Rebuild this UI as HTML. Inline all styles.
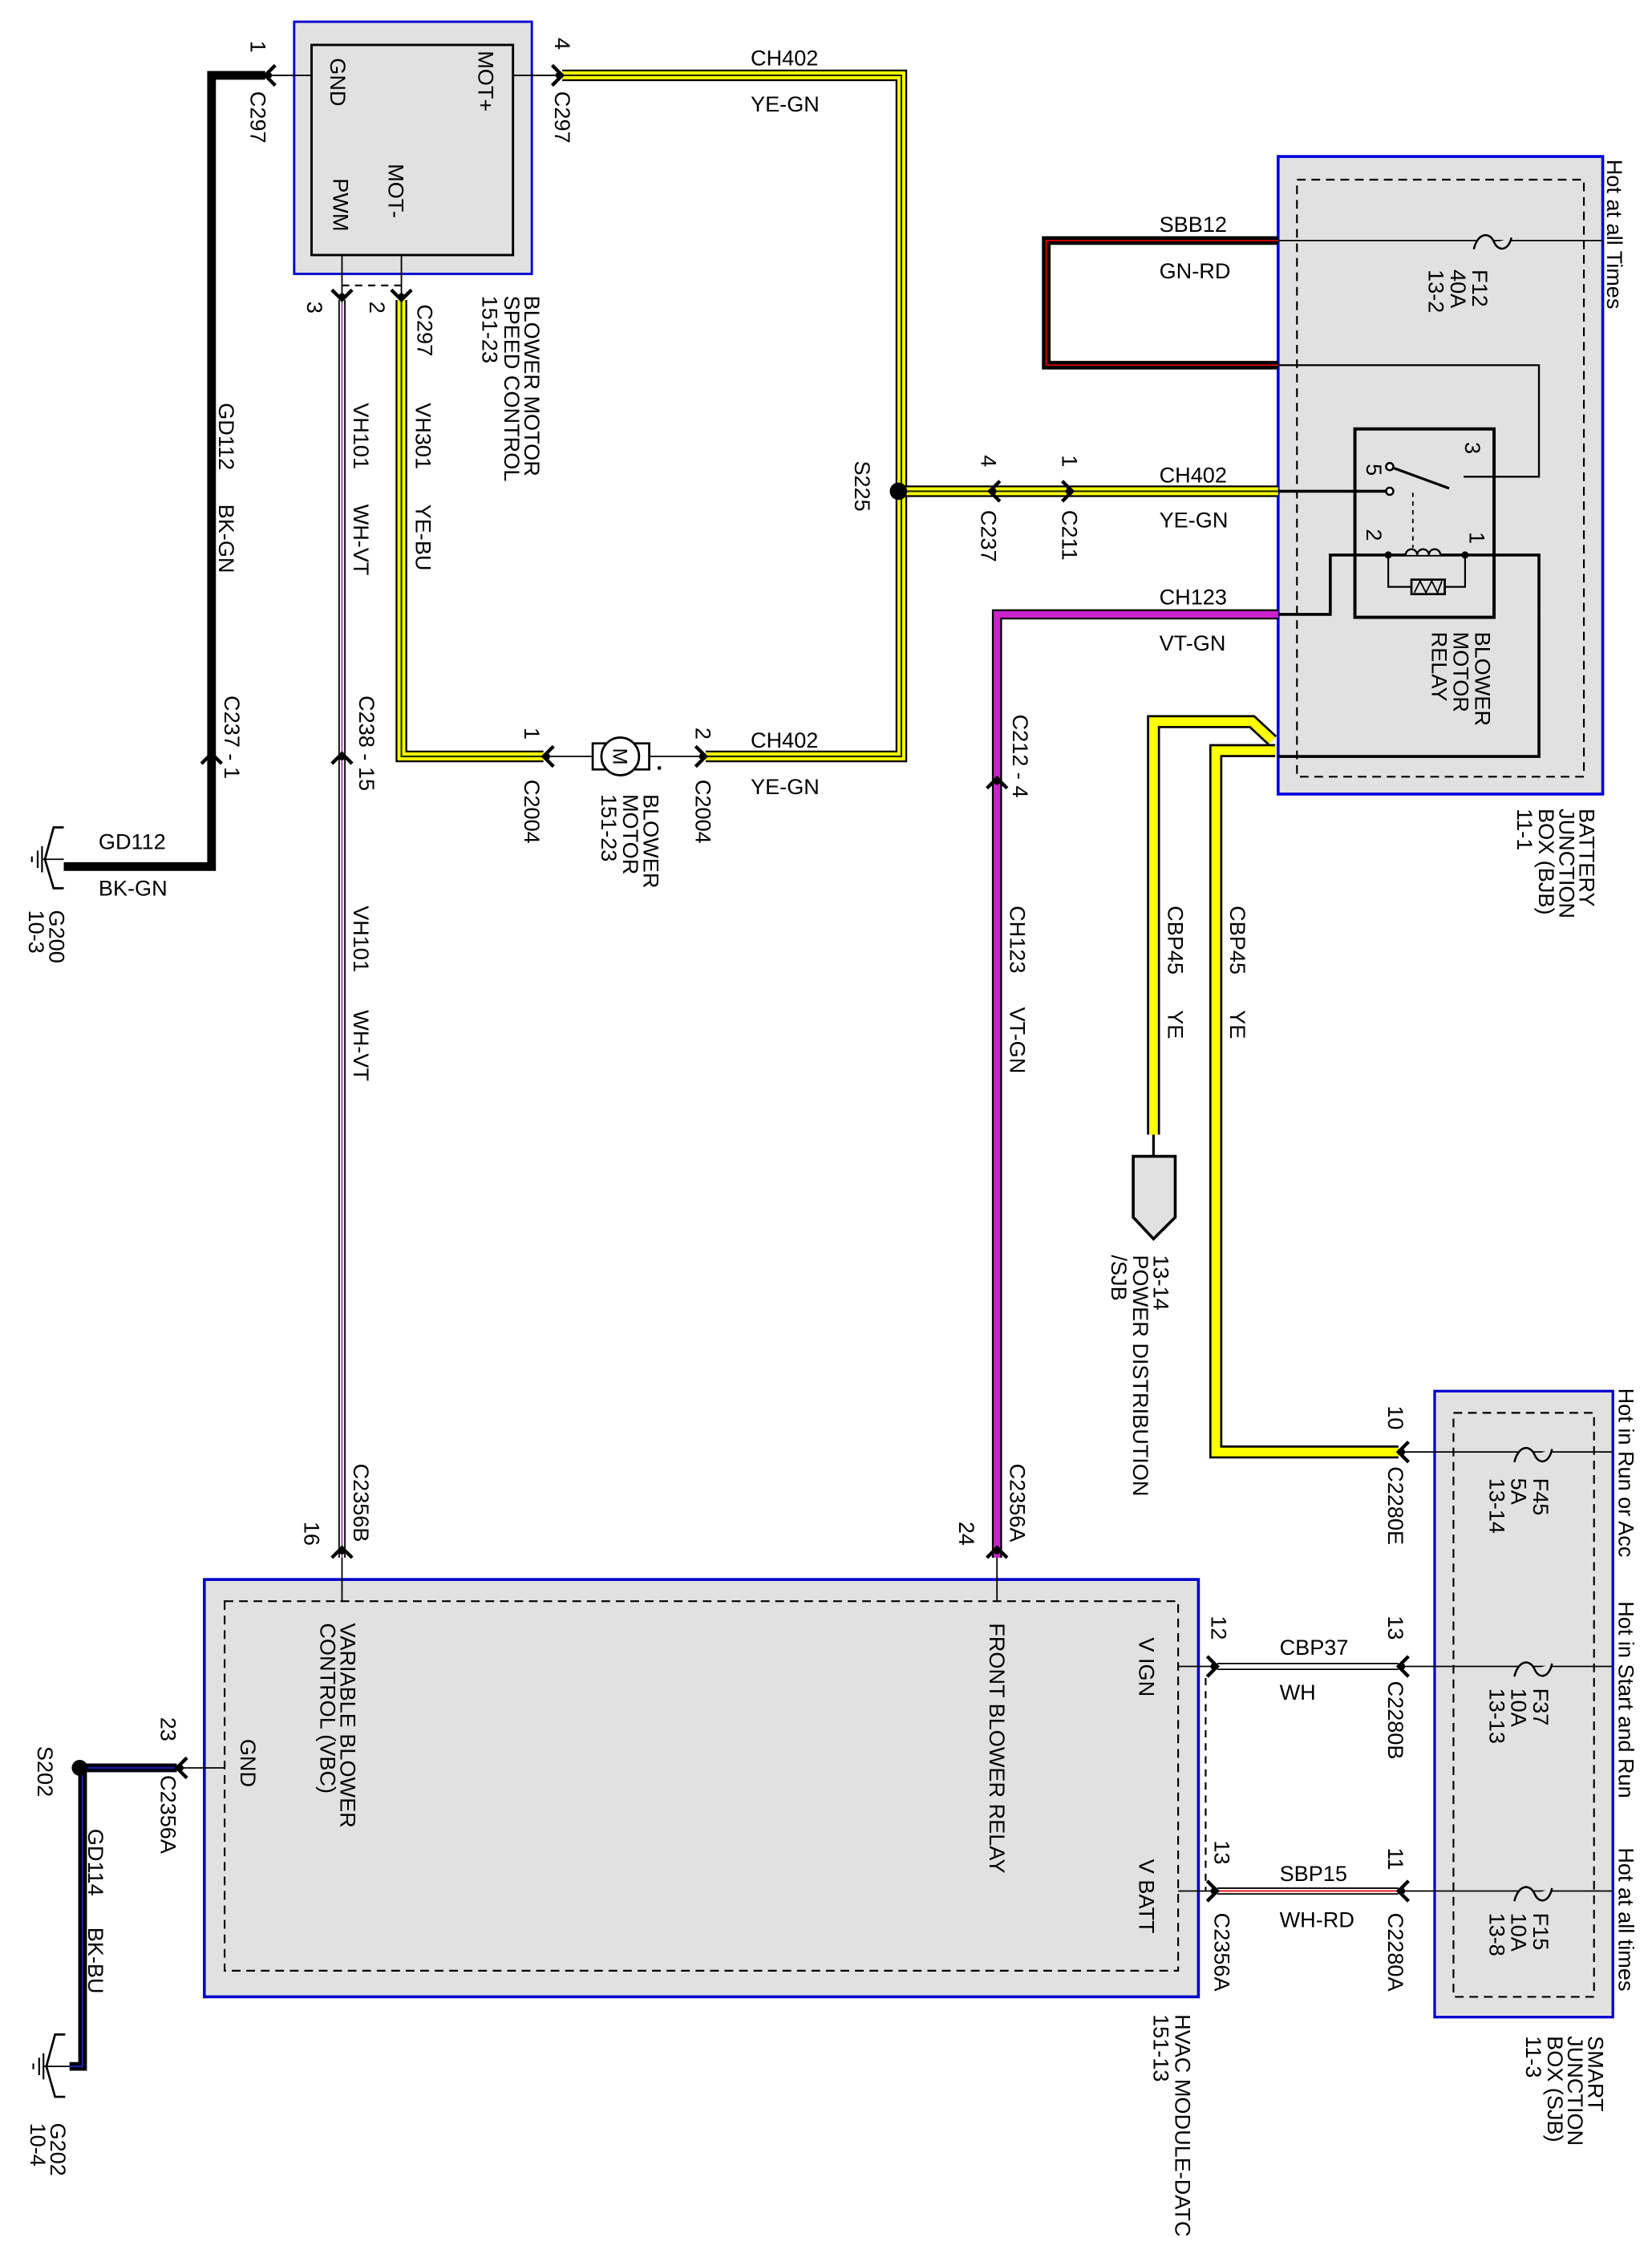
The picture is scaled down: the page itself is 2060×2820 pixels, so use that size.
<!DOCTYPE html>
<html><head><meta charset="utf-8"><style>
html,body{margin:0;padding:0;background:#fff;}
svg{display:block;}
text{font-family:"Liberation Sans",Arial,sans-serif;font-size:15px;fill:#000;}
</style></head><body>
<svg width="2060" height="2820" viewBox="0 0 1140 1561" preserveAspectRatio="none" xmlns="http://www.w3.org/2000/svg">
<defs>
<g id="chL"><polyline points="7,-7 0,0 7,7" fill="none" stroke="#000" stroke-width="2.4"/><circle cx="2.5" cy="0" r="2.2"/></g>
</defs>
<rect x="203" y="15" width="164" height="174" fill="#e1e1e1" stroke="#0000cc" stroke-width="1.6"/>
<rect x="215" y="31" width="139" height="145" fill="none" stroke="#000" stroke-width="1.6"/>
<rect x="882" y="108" width="224" height="440" fill="#e1e1e1" stroke="#0000dd" stroke-width="2"/>
<rect x="895" y="124" width="198" height="412" fill="none" stroke="#000" stroke-width="1.2" stroke-dasharray="6,4"/>
<rect x="141" y="1090" width="686" height="288" fill="#e1e1e1" stroke="#0000cc" stroke-width="2"/>
<rect x="155" y="1105" width="658" height="255" fill="none" stroke="#000" stroke-width="1.2" stroke-dasharray="6,4"/>
<rect x="990" y="960" width="123" height="432" fill="#e1e1e1" stroke="#0000cc" stroke-width="1.8"/>
<rect x="1003" y="975" width="97" height="403" fill="none" stroke="#000" stroke-width="1.2" stroke-dasharray="6,4"/>

<polyline points="183,52 146,52 146,598 44,598" fill="none" stroke="#000" stroke-width="6"/>
<line x1="183" y1="52" x2="215" y2="52" stroke="#000" stroke-width="1"/>
<use href="#chL" x="183" y="52"/>
<use href="#chL" transform="translate(146,520) rotate(90)"/>
<polyline points="44,571 37,571 31,593 37,613 44,613" fill="none" stroke="#000" stroke-width="1.5"/>
<line x1="29" y1="593" x2="44" y2="593" stroke="#000" stroke-width="1"/>
<line x1="29" y1="584" x2="29" y2="602" stroke="#000" stroke-width="1.2"/>
<line x1="26" y1="587" x2="26" y2="599" stroke="#000" stroke-width="1.2"/>
<line x1="22" y1="591" x2="22" y2="595" stroke="#000" stroke-width="1.2"/>

<polyline points="388,52 622,52 622,522 487,522" fill="none" stroke="#000" stroke-width="8"/>
<polyline points="388,52 622,52 622,522 487,522" fill="none" stroke="#ffff00" stroke-width="5.5"/>
<polyline points="388,52 622,52 622,522 487,522" fill="none" stroke="#1a2a00" stroke-width="1.2"/>
<line x1="354" y1="52" x2="388" y2="52" stroke="#000" stroke-width="1"/>
<use href="#chL" transform="translate(388,52) rotate(180)"/>
<line x1="620" y1="339" x2="882" y2="339" stroke="#000" stroke-width="8"/>
<line x1="620" y1="339" x2="882" y2="339" stroke="#ffff00" stroke-width="5.5"/>
<line x1="620" y1="339" x2="882" y2="339" stroke="#1a2a00" stroke-width="1.2"/>
<circle cx="620" cy="339" r="6"/>
<use href="#chL" x="683" y="339"/>
<use href="#chL" transform="translate(740,339) rotate(180)"/>

<polyline points="277,207 277,522 375,522" fill="none" stroke="#000" stroke-width="8"/>
<polyline points="277,207 277,522 375,522" fill="none" stroke="#ffff00" stroke-width="5.5"/>
<polyline points="277,207 277,522 375,522" fill="none" stroke="#223300" stroke-width="1.2"/>
<line x1="277" y1="176" x2="277" y2="207" stroke="#000" stroke-width="1"/>
<use href="#chL" transform="translate(277,207) rotate(-90)"/>
<line x1="236" y1="207" x2="236" y2="1075" stroke="#000" stroke-width="5"/>
<line x1="236" y1="207" x2="236" y2="1075" stroke="#fff" stroke-width="3"/>
<line x1="236" y1="207" x2="236" y2="1075" stroke="#a040b0" stroke-width="1"/>
<line x1="236" y1="176" x2="236" y2="207" stroke="#000" stroke-width="1"/>
<use href="#chL" transform="translate(236,207) rotate(-90)"/>
<use href="#chL" transform="translate(236,520) rotate(90)"/>
<use href="#chL" transform="translate(236,1068) rotate(90)"/>
<line x1="236" y1="1075" x2="236" y2="1105" stroke="#000" stroke-width="1"/>
<polyline points="236,197 277,197" fill="none" stroke="#000" stroke-width="1.2" stroke-dasharray="5,4"/>

<line x1="375" y1="522" x2="487" y2="522" stroke="#000" stroke-width="1"/>
<use href="#chL" x="375" y="522"/>
<use href="#chL" transform="translate(487,522) rotate(180)"/>
<rect x="409" y="513" width="39" height="18" fill="#fff" stroke="#000" stroke-width="1.5"/>
<circle cx="428" cy="522" r="13" fill="#fff" stroke="#000" stroke-width="1.5"/>
<text x="428" y="522" text-anchor="middle" transform="rotate(90 428 522)" dy="5" style="font-size:14px">M</text>
<circle cx="455" cy="530" r="1.3"/>

<polyline points="882,166 722,166 722,252 882,252" fill="none" stroke="#000" stroke-width="6"/>
<polyline points="882,166 722,166 722,252 882,252" fill="none" stroke="#dd0000" stroke-width="1"/>
<line x1="882" y1="166" x2="1106" y2="166" stroke="#000" stroke-width="1"/>
<path d="M1017,172 C1020,160 1028,160 1031,167 C1034,174 1041,173 1043,164" fill="#e1e1e1" stroke="#000" stroke-width="1.4"/>
<polyline points="882,252 1062,252 1062,329 1010,329" fill="none" stroke="#000" stroke-width="1.3"/>
<rect x="935" y="296" width="96" height="130" fill="none" stroke="#000" stroke-width="2.2"/>
<line x1="882" y1="339" x2="958" y2="339" stroke="#000" stroke-width="2"/>
<circle cx="959" cy="339" r="2.5" fill="#fff" stroke="#000" stroke-width="1.4"/>
<line x1="959" y1="322" x2="1000" y2="337" stroke="#000" stroke-width="1.8"/>
<circle cx="959" cy="322" r="2.5" fill="#fff" stroke="#000" stroke-width="1.4"/>
<line x1="975" y1="340" x2="975" y2="378" stroke="#000" stroke-width="1" stroke-dasharray="3,3"/>
<polyline points="882,424 918,424 918,383 1062,383 1062,522 882,522" fill="none" stroke="#000" stroke-width="2"/>
<circle cx="958" cy="383" r="2.5"/><circle cx="1011" cy="383" r="2.5"/>
<path d="M970,383 a4,4 0 0 1 8,0 a4,4 0 0 1 8,0 a4,4 0 0 1 8,0" fill="#e1e1e1" stroke="#000" stroke-width="1.3"/>
<polyline points="958,383 958,405 1011,405 1011,383" fill="none" stroke="#000" stroke-width="1.2"/>
<rect x="974" y="400" width="23" height="10" fill="#e1e1e1" stroke="#000" stroke-width="1.5"/>
<polyline points="976,409 980,401 984,409 988,401 992,409 995,401" fill="none" stroke="#000" stroke-width="1"/>

<polyline points="882,424 688,424 688,1075" fill="none" stroke="#000" stroke-width="7"/>
<polyline points="882,424 688,424 688,1075" fill="none" stroke="#cc22cc" stroke-width="4.5"/>
<use href="#chL" transform="translate(688,537) rotate(90)"/>
<use href="#chL" transform="translate(688,1068) rotate(90)"/>
<line x1="688" y1="1075" x2="688" y2="1105" stroke="#000" stroke-width="1"/>

<polyline points="878,511 864,498 796,498 796,783" fill="none" stroke="#000" stroke-width="9"/>
<polyline points="878,511 864,498 796,498 796,783" fill="none" stroke="#ffff00" stroke-width="6"/>
<line x1="796" y1="783" x2="796" y2="798" stroke="#000" stroke-width="1.8"/>
<polygon points="782,798 811,798 811,840 796,855 782,840" fill="#e1e1e1" stroke="#000" stroke-width="2"/>
<polyline points="880,518 839,518 839,1002 965,1002" fill="none" stroke="#000" stroke-width="9"/>
<polyline points="880,518 839,518 839,1002 965,1002" fill="none" stroke="#ffff00" stroke-width="6"/>
<line x1="965" y1="1002" x2="1113" y2="1002" stroke="#000" stroke-width="1"/>
<use href="#chL" x="965" y="1002"/>

<path d="M1045,1009 C1048,997 1056,997 1059,1004 C1062,1011 1069,1010 1071,1000" fill="#e1e1e1" stroke="#000" stroke-width="1.4"/>
<line x1="965" y1="1150" x2="1113" y2="1150" stroke="#000" stroke-width="1"/>
<path d="M1045,1157 C1048,1145 1056,1145 1059,1152 C1062,1159 1069,1158 1071,1148" fill="#e1e1e1" stroke="#000" stroke-width="1.4"/>
<line x1="965" y1="1305" x2="1113" y2="1305" stroke="#000" stroke-width="1"/>
<path d="M1045,1312 C1048,1300 1056,1300 1059,1307 C1062,1314 1069,1313 1071,1303" fill="#e1e1e1" stroke="#000" stroke-width="1.4"/>

<line x1="840" y1="1150" x2="965" y2="1150" stroke="#000" stroke-width="5"/>
<line x1="840" y1="1150" x2="965" y2="1150" stroke="#fff" stroke-width="3"/>
<line x1="813" y1="1150" x2="840" y2="1150" stroke="#000" stroke-width="1"/>
<use href="#chL" x="965" y="1150"/>
<use href="#chL" transform="translate(840,1150) rotate(180)"/>
<line x1="840" y1="1305" x2="965" y2="1305" stroke="#000" stroke-width="5"/>
<line x1="840" y1="1305" x2="965" y2="1305" stroke="#fff" stroke-width="3"/>
<line x1="840" y1="1305" x2="965" y2="1305" stroke="#dd0000" stroke-width="1"/>
<line x1="813" y1="1305" x2="840" y2="1305" stroke="#000" stroke-width="1"/>
<use href="#chL" x="965" y="1305"/>
<use href="#chL" transform="translate(840,1305) rotate(180)"/>
<line x1="832" y1="1158" x2="832" y2="1305" stroke="#000" stroke-width="1.2" stroke-dasharray="5,4"/>

<polyline points="122,1220 57,1220 57,1426 48,1426" fill="none" stroke="#000" stroke-width="6"/>
<polyline points="122,1220 57,1220 57,1426 48,1426" fill="none" stroke="#1a1aa0" stroke-width="1.4"/>
<line x1="122" y1="1220" x2="155" y2="1220" stroke="#000" stroke-width="1"/>
<use href="#chL" x="122" y="1220"/>
<circle cx="55" cy="1220" r="5.5"/>
<polyline points="45,1404 38,1404 32,1426 38,1447 45,1447" fill="none" stroke="#000" stroke-width="1.5"/>
<line x1="30" y1="1426" x2="48" y2="1426" stroke="#000" stroke-width="1"/>
<line x1="30" y1="1417" x2="30" y2="1435" stroke="#000" stroke-width="1.2"/>
<line x1="27" y1="1420" x2="27" y2="1432" stroke="#000" stroke-width="1.2"/>
<line x1="23" y1="1424" x2="23" y2="1428" stroke="#000" stroke-width="1.2"/>

<text x="518" y="45">CH402</text><text x="518" y="77">YE-GN</text>
<text x="518" y="516">CH402</text><text x="518" y="548">YE-GN</text>
<text x="68" y="586">GD112</text><text x="68" y="618">BK-GN</text>
<text x="800" y="160">SBB12</text><text x="800" y="192">GN-RD</text>
<text x="800" y="333">CH402</text><text x="800" y="364">YE-GN</text>
<text x="800" y="417">CH123</text><text x="800" y="449">VT-GN</text>
<text x="883" y="1142">CBP37</text><text x="883" y="1173">WH</text>
<text x="883" y="1298">SBP15</text><text x="883" y="1330">WH-RD</text>

<g>
<text transform="translate(173,28) rotate(90)">1</text>
<text transform="translate(173,63) rotate(90)">C297</text>
<text transform="translate(228,40) rotate(90)">GND</text>
<text transform="translate(330,35) rotate(90)">MOT+</text>
<text transform="translate(268,113) rotate(90)">MOT-</text>
<text transform="translate(230,123) rotate(90)">PWM</text>
<text transform="translate(383,26) rotate(90)">4</text>
<text transform="translate(383,63) rotate(90)">C297</text>
<text transform="translate(212,208) rotate(90)">3</text>
<text transform="translate(255,208) rotate(90)">2</text>
<text transform="translate(288,210) rotate(90)">C297</text>
<text transform="translate(362,204) rotate(90)">BLOWER MOTOR</text>
<text transform="translate(348,204) rotate(90)">SPEED CONTROL</text>
<text transform="translate(333,204) rotate(90)">151-23</text>
<text transform="translate(151,278) rotate(90)">GD112</text>
<text transform="translate(151,348) rotate(90)">BK-GN</text>
<text transform="translate(244,278) rotate(90)">VH101</text>
<text transform="translate(244,348) rotate(90)">WH-VT</text>
<text transform="translate(287,278) rotate(90)">VH301</text>
<text transform="translate(287,348) rotate(90)">YE-BU</text>
<text transform="translate(155,480) rotate(90)">C237  -  1</text>
<text transform="translate(248,480) rotate(90)">C238  -  15</text>
<text transform="translate(590,318) rotate(90)">S225</text>
<text transform="translate(677,314) rotate(90)">4</text>
<text transform="translate(677,352) rotate(90)">C237</text>
<text transform="translate(733,314) rotate(90)">1</text>
<text transform="translate(733,352) rotate(90)">C211</text>
<text transform="translate(362,502) rotate(90)">1</text>
<text transform="translate(362,538) rotate(90)">C2004</text>
<text transform="translate(480,502) rotate(90)">2</text>
<text transform="translate(480,538) rotate(90)">C2004</text>
<text transform="translate(444,548) rotate(90)">BLOWER</text>
<text transform="translate(430,548) rotate(90)">MOTOR</text>
<text transform="translate(415,548) rotate(90)">151-23</text>
<text transform="translate(699,493) rotate(90)">C212  -  4</text>
<text transform="translate(697,625) rotate(90)">CH123</text>
<text transform="translate(697,695) rotate(90)">VT-GN</text>
<text transform="translate(806,625) rotate(90)">CBP45</text>
<text transform="translate(806,697) rotate(90)">YE</text>
<text transform="translate(849,625) rotate(90)">CBP45</text>
<text transform="translate(849,697) rotate(90)">YE</text>
<text transform="translate(796,866) rotate(90)">13-14</text>
<text transform="translate(782,866) rotate(90)">POWER DISTRIBUTION</text>
<text transform="translate(767,866) rotate(90)">/SJB</text>
<text transform="translate(1109,110) rotate(90)">Hot at all Times</text>
<text transform="translate(1016,186) rotate(90)">F12</text>
<text transform="translate(1001,186) rotate(90)">40A</text>
<text transform="translate(986,186) rotate(90)">13-2</text>
<text transform="translate(1011,305) rotate(90)">3</text>
<text transform="translate(943,320) rotate(90)">5</text>
<text transform="translate(943,365) rotate(90)">2</text>
<text transform="translate(1014,367) rotate(90)">1</text>
<text transform="translate(1018,436) rotate(90)">BLOWER</text>
<text transform="translate(1003,436) rotate(90)">MOTOR</text>
<text transform="translate(988,436) rotate(90)">RELAY</text>
<text transform="translate(1090,558) rotate(90)">BATTERY</text>
<text transform="translate(1076,558) rotate(90)">JUNCTION</text>
<text transform="translate(1062,558) rotate(90)">BOX (BJB)</text>
<text transform="translate(1047,558) rotate(90)">11-1</text>
<text transform="translate(34,628) rotate(90)">G200</text>
<text transform="translate(20,628) rotate(90)">10-3</text>
<text transform="translate(244,625) rotate(90)">VH101</text>
<text transform="translate(244,697) rotate(90)">WH-VT</text>
<text transform="translate(244,1010) rotate(90)">C2356B</text>
<text transform="translate(210,1050) rotate(90)">16</text>
<text transform="translate(697,1010) rotate(90)">C2356A</text>
<text transform="translate(662,1050) rotate(90)">24</text>
<text transform="translate(235,1120) rotate(90)">VARIABLE BLOWER</text>
<text transform="translate(221,1120) rotate(90)">CONTROL (VBC)</text>
<text transform="translate(166,1200) rotate(90)">GND</text>
<text transform="translate(683,1120) rotate(90)">FRONT BLOWER RELAY</text>
<text transform="translate(786,1130) rotate(90)">V IGN</text>
<text transform="translate(786,1283) rotate(90)">V BATT</text>
<text transform="translate(811,1390) rotate(90)">HVAC MODULE-DATC</text>
<text transform="translate(796,1390) rotate(90)">151-13</text>
<text transform="translate(836,1115) rotate(90)">12</text>
<text transform="translate(958,1115) rotate(90)">13</text>
<text transform="translate(958,1160) rotate(90)">C2280B</text>
<text transform="translate(838,1270) rotate(90)">13</text>
<text transform="translate(838,1320) rotate(90)">C2356A</text>
<text transform="translate(958,1275) rotate(90)">11</text>
<text transform="translate(958,1320) rotate(90)">C2280A</text>
<text transform="translate(958,970) rotate(90)">10</text>
<text transform="translate(958,1012) rotate(90)">C2280E</text>
<text transform="translate(1058,1020) rotate(90)">F45</text>
<text transform="translate(1043,1020) rotate(90)">5A</text>
<text transform="translate(1028,1020) rotate(90)">13-14</text>
<text transform="translate(1058,1165) rotate(90)">F37</text>
<text transform="translate(1043,1165) rotate(90)">10A</text>
<text transform="translate(1028,1165) rotate(90)">13-13</text>
<text transform="translate(1058,1320) rotate(90)">F15</text>
<text transform="translate(1043,1320) rotate(90)">10A</text>
<text transform="translate(1028,1320) rotate(90)">13-8</text>
<text transform="translate(1117,958) rotate(90)">Hot in Run or Acc</text>
<text transform="translate(1117,1105) rotate(90)">Hot in Start and Run</text>
<text transform="translate(1117,1275) rotate(90)">Hot at all times</text>
<text transform="translate(1096,1405) rotate(90)">SMART</text>
<text transform="translate(1082,1405) rotate(90)">JUNCTION</text>
<text transform="translate(1068,1405) rotate(90)">BOX (SJB)</text>
<text transform="translate(1053,1405) rotate(90)">11-3</text>
<text transform="translate(111,1185) rotate(90)">23</text>
<text transform="translate(111,1225) rotate(90)">C2356A</text>
<text transform="translate(26,1205) rotate(90)">S202</text>
<text transform="translate(61,1262) rotate(90)">GD114</text>
<text transform="translate(61,1330) rotate(90)">BK-BU</text>
<text transform="translate(35,1465) rotate(90)">G202</text>
<text transform="translate(21,1465) rotate(90)">10-4</text>
</g>
</svg>
</body></html>
